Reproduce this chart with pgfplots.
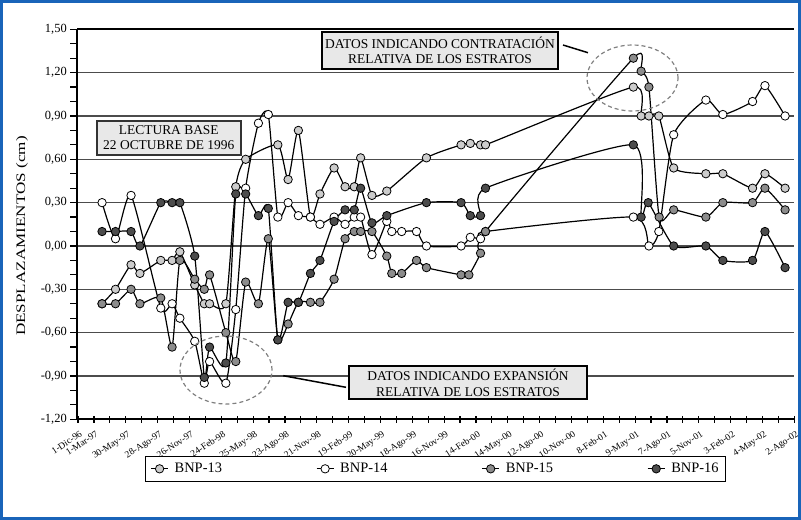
\documentclass[border=0pt]{standalone}
\usepackage{pgfplots}
\pgfplotsset{compat=1.18}
\usepackage{fontspec}
\setmainfont{Liberation Serif}
\definecolor{c13}{gray}{0.80}
\definecolor{c14}{gray}{1.0}
\definecolor{c15}{gray}{0.55}
\definecolor{c16}{gray}{0.30}
\definecolor{gridc}{gray}{0.30}
\definecolor{frameblue}{RGB}{25,100,185}
\definecolor{boxfill}{gray}{0.91}
\begin{document}
\begin{tikzpicture}
\useasboundingbox (0,0) rectangle (801bp,-520bp);
\begin{axis}[
  at={(77.3bp,-419.3bp)}, anchor=south west,
  scale only axis, width=717bp, height=390bp,
  xmin=43, xmax=2070, ymin=-1.2, ymax=1.5,
  axis x line*=bottom, axis y line*=left,
  axis line style={line width=2.2bp,-,black},
  xtick={45,90,180,270,360,450,540,630,720,810,900,990,1080,1170,1260,1350,1440,1530,1620,1710,1800,1890,1980,2070},
  minor xtick={135,225,315,405,495,585,675,765,855,945,1035,1125,1215,1305,1395,1485,1575,1665,1755,1845,1935,2025},
  xticklabels={1-Dic-96,1-Mar-97,30-May-97,28-Ago-97,26-Nov-97,24-Feb-98,25-May-98,23-Ago-98,21-Nov-98,19-Feb-99,20-May-99,18-Ago-99,16-Nov-99,14-Feb-00,14-May-00,12-Ago-00,10-Nov-00,8-Feb-01,9-May-01,7-Ago-01,5-Nov-01,3-Feb-02,4-May-02,2-Ago-02},
  x tick label style={font=\fontsize{9.5}{9.5}\selectfont, rotate=33, anchor=north east, inner sep=1bp, yshift=-3bp},
  ytick={-1.2,-0.9,-0.6,-0.3,0,0.3,0.6,0.9,1.2,1.5},
  yticklabels={{-1,20},{-0,90},{-0,60},{-0,30},{0,00},{0,30},{0,60},{0,90},{1,20},{1,50}},
  minor ytick={-1.1,-1.0,-0.8,-0.7,-0.5,-0.4,-0.2,-0.1,0.1,0.2,0.4,0.5,0.7,0.8,1.0,1.1,1.3,1.4},
  y tick label style={font=\fontsize{12.5}{12.5}\selectfont},
  tick align=outside,
  major tick length=7bp, minor tick length=7bp,
  tick style={black, line width=1.2bp},
  xtick style={yshift=3.5bp},
  ymajorgrids, grid style={line width=1.3bp, gridc},
  ylabel={\scalebox{1.32}[1]{DESPLAZAMIENTOS (cm)}},
  ylabel style={at={(axis description cs:-0.077,0.47)}, anchor=center, font=\fontsize{13}{13}\selectfont},
  every axis plot/.append style={line width=1.2bp, black, smooth, tension=0.35, mark=*, mark size=4.2bp},
  legend columns=4,
  legend style={at={(axis description cs:0.4997,-0.127)}, anchor=center, draw=black, line width=1.2bp,
    font=\rmfamily\fontsize{14.5}{14.5}\selectfont, inner xsep=5bp, inner ysep=5bp,
    /tikz/every odd column/.append style={column sep=4bp},
    /tikz/every even column/.append style={column sep=92bp}},
  clip=false,
]
\draw[line width=2.2bp, black] (axis cs:43,1.5) -- (axis cs:2070,1.5);
% BNP-13
\addplot[mark options={fill=c13, draw=black, line width=0.8bp}] coordinates {
(113,-0.40)(151,-0.30)(195,-0.13)(220,-0.19)(279,-0.10)(311,-0.10)(333,-0.04)(375,-0.27)(402,-0.40)(417,-0.40)(463,-0.40)(491,0.41)(519,0.60)(610,0.70)(639,0.46)(668,0.80)(702,0.20)(729,0.36)(769,0.54)(800,0.41)(826,0.41)(844,0.61)(876,0.35)(918,0.38)(1030,0.61)(1128,0.70)(1154,0.71)(1183,0.70)(1197,0.70)(1615,1.10)(1637,0.90)(1659,0.90)(1687,0.90)(1729,0.54)(1820,0.50)(1868,0.50)(1952,0.40)(1987,0.50)(2044,0.40)};
\addlegendentry{BNP-13}
% BNP-14
\addplot[mark options={fill=c14, draw=black, line width=0.8bp}] coordinates {
(113,0.30)(151,0.05)(195,0.35)(279,-0.43)(311,-0.40)(333,-0.50)(375,-0.66)(402,-0.95)(417,-0.80)(463,-0.95)(491,-0.44)(519,0.40)(555,0.85)(583,0.91)(610,0.20)(639,0.30)(668,0.21)(702,0.20)(729,0.15)(769,0.20)(800,0.15)(826,0.20)(844,0.20)(876,-0.06)(918,0.17)(932,0.10)(960,0.10)(1002,0.10)(1030,0.00)(1128,0.00)(1154,0.06)(1183,0.05)(1197,0.10)(1615,0.20)(1659,0.00)(1687,0.10)(1729,0.77)(1820,1.01)(1868,0.91)(1952,1.00)(1987,1.11)(2044,0.90)};
\addlegendentry{BNP-14}
% BNP-15
\addplot[mark options={fill=c15, draw=black, line width=0.8bp}] coordinates {
(113,-0.40)(151,-0.40)(195,-0.30)(220,-0.40)(279,-0.36)(311,-0.70)(333,-0.10)(375,-0.23)(402,-0.30)(417,-0.20)(463,-0.60)(491,-0.80)(519,-0.25)(555,-0.40)(583,0.05)(610,-0.65)(639,-0.54)(668,-0.39)(702,-0.39)(729,-0.39)(769,-0.23)(800,0.05)(826,0.10)(844,0.10)(876,0.10)(918,-0.07)(932,-0.19)(960,-0.19)(1002,-0.10)(1030,-0.15)(1128,-0.20)(1150,-0.20)(1183,-0.05)(1197,0.10)(1615,1.30)(1637,1.21)(1659,1.10)(1688,0.20)(1729,0.25)(1820,0.20)(1868,0.30)(1952,0.30)(1987,0.40)(2044,0.25)};
\addlegendentry{BNP-15}
% BNP-16
\addplot[mark options={fill=c16, draw=black, line width=0.8bp}] coordinates {
(113,0.10)(151,0.10)(195,0.10)(220,0.00)(279,0.30)(311,0.30)(333,0.30)(375,-0.07)(402,-0.91)(417,-0.70)(463,-0.81)(491,0.36)(519,0.36)(555,0.21)(583,0.26)(610,-0.65)(639,-0.39)(668,-0.39)(702,-0.19)(729,-0.10)(769,0.17)(800,0.25)(826,0.25)(844,0.40)(876,0.16)(918,0.21)(1030,0.30)(1128,0.30)(1154,0.21)(1183,0.21)(1197,0.40)(1615,0.70)(1637,0.20)(1657,0.30)(1729,0.00)(1820,0.00)(1868,-0.10)(1952,-0.10)(1987,0.10)(2044,-0.15)};
\addlegendentry{BNP-16}
\end{axis}
% annotations
\node[draw=black!80, line width=1.5bp, fill=boxfill, minimum width=144bp, minimum height=34bp, align=center, inner sep=1bp, font=\fontsize{13.5}{15.5}\selectfont] at (168.8bp,-137.8bp) {LECTURA BASE\\22 OCTUBRE DE 1996};
\node[draw=black, line width=2bp, fill=boxfill, minimum width=236bp, minimum height=37bp, align=center, inner sep=1bp, font=\fontsize{13.5}{15.5}\selectfont] at (440bp,-50.5bp) {DATOS INDICANDO CONTRATACIÓN\\RELATIVA DE LOS ESTRATOS};
\node[draw=black, line width=2bp, fill=boxfill, minimum width=238bp, minimum height=33bp, align=center, inner sep=1bp, font=\fontsize{13.5}{15.5}\selectfont] at (468bp,-382.7bp) {DATOS INDICANDO EXPANSIÓN\\RELATIVA DE LOS ESTRATOS};
\draw[gray, line width=1.2bp, dash pattern=on 4bp off 3bp] (632.5bp,-78bp) ellipse [x radius=45.5bp, y radius=33bp];
\draw[gray, line width=1.2bp, dash pattern=on 4bp off 3bp] (226bp,-370bp) ellipse [x radius=46bp, y radius=34bp];
\draw[black, line width=1.5bp] (563bp,-45bp) -- (588bp,-52.7bp);
\draw[black, line width=1.5bp] (283.3bp,-375.7bp) -- (346bp,-387.3bp);
\draw[frameblue, line width=3bp] (1.5bp,-1.5bp) rectangle (799.5bp,-518.5bp);
\end{tikzpicture}
\end{document}
